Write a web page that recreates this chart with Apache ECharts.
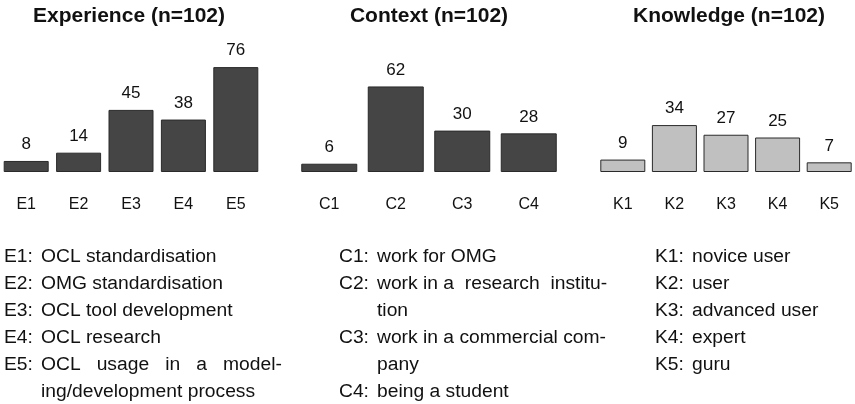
<!DOCTYPE html>
<html>
<head>
<meta charset="utf-8">
<script src="https://cdn.jsdelivr.net/npm/echarts@6/dist/echarts.min.js"></script>
<style>
  html, body { margin: 0; padding: 0; background: #fff; }
  #main { width: 855px; height: 404px; }
</style>
</head>
<body>
<div id="main"></div>
<script>
// survey answers, three panels
const expCats = ['E1', 'E2', 'E3', 'E4', 'E5']
const expVals = [8, 14, 45, 38, 76]
const ctxCats = ['C1', 'C2', 'C3', 'C4']
const ctxVals = [6, 62, 30, 28]
const knwCats = ['K1', 'K2', 'K3', 'K4', 'K5']
const knwVals = [9, 34, 27, 25, 7]
const titles = ['Experience (n=102)', 'Context (n=102)', 'Knowledge (n=102)']

const expLegend = [
  ['E1:', 'OCL standardisation'],
  ['E2:', 'OMG standardisation'],
  ['E3:', 'OCL tool development'],
  ['E4:', 'OCL research'],
  ['E5:', 'OCL   usage   in   a   model-'],
  ['', 'ing/development process']
]
const ctxLegend = [
  ['C1:', 'work for OMG'],
  ['C2:', 'work in a  research  institu-'],
  ['', 'tion'],
  ['C3:', 'work in a commercial com-'],
  ['', 'pany'],
  ['C4:', 'being a student']
]
const knwLegend = [
  ['K1:', 'novice user'],
  ['K2:', 'user'],
  ['K3:', 'advanced user'],
  ['K4:', 'expert'],
  ['K5:', 'guru']
]

let myChart = echarts.init(document.getElementById('main'), null, { renderer: 'canvas' })
const font = 'Liberation Sans, Arial, sans-serif'

const grids = [
  { left: -3, top: 34, width: 265, height: 138 },
  { left: 296, top: 34, width: 266, height: 138 },
  { left: 597, top: 34, width: 265, height: 138 }
]
const cats = [expCats, ctxCats, knwCats]
const vals = [expVals, ctxVals, knwVals]
const fills = ['#454545', '#454545', '#c0c0c0']
const widths = [45, 56, 45]
const centers = [129, 429, 729]

function legendText (rows, x1, x2) {
  let out = []
  rows.forEach(function (r, i) {
    let y = 257 + i * 27
    if (r[0]) {
      out.push({ type: 'text', x: x1, y: y, scaleX: 1.07, style: { text: r[0], font: '18px ' + font, fill: '#111', verticalAlign: 'middle' } })
    }
    out.push({ type: 'text', x: x2, y: y, scaleX: 1.07, style: { text: r[1], font: '18px ' + font, fill: '#111', verticalAlign: 'middle' } })
  })
  return out
}

let graphic = []
titles.forEach(function (t, i) {
  graphic.push({
    type: 'text', x: centers[i], y: 16, scaleX: 1.05,
    style: { text: t, font: 'bold 20px ' + font, fill: '#111', align: 'center', verticalAlign: 'middle' }
  })
})
graphic = graphic.concat(legendText(expLegend, 4, 41))
graphic = graphic.concat(legendText(ctxLegend, 339, 377))
graphic = graphic.concat(legendText(knwLegend, 655, 692))

myChart.setOption({
  animation: false,
  grid: grids,
  xAxis: cats.map(function (c, i) {
    return {
      type: 'category', gridIndex: i, data: c,
      axisLine: { show: false }, axisTick: { show: false },
      axisLabel: { margin: 25, fontSize: 16, color: '#111', fontFamily: font }
    }
  }),
  yAxis: cats.map(function (c, i) {
    return { type: 'value', gridIndex: i, min: 0, max: 100, show: false, splitLine: { show: false } }
  }),
  series: vals.map(function (v, i) {
    return {
      type: 'bar', xAxisIndex: i, yAxisIndex: i, data: v,
      barWidth: widths[i],
      itemStyle: { color: fills[i], borderColor: '#2a2a2a', borderWidth: 1 },
      label: { show: true, position: 'top', distance: 8, fontSize: 17, color: '#111', fontFamily: font }
    }
  }),
  graphic: graphic
})
</script>
</body>
</html>
